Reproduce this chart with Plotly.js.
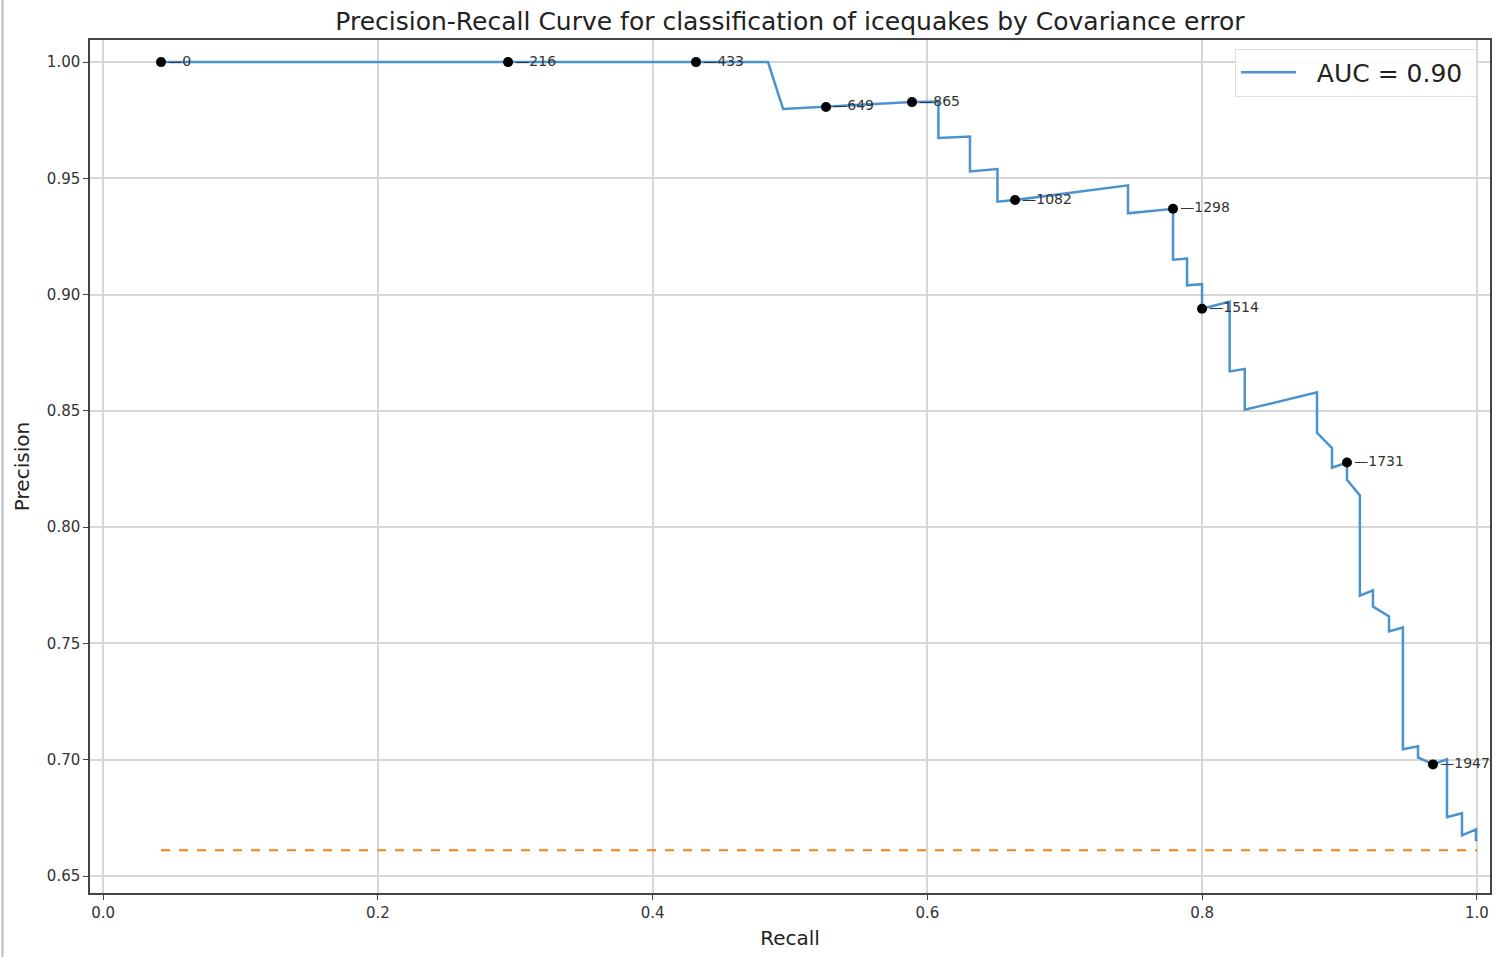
<!DOCTYPE html>
<html><head><meta charset="utf-8">
<script src="https://cdn.plot.ly/plotly-3.0.1.min.js"></script>
<style>html,body{margin:0;padding:0;background:#fff;}#chart{width:1499px;height:966px;}</style>
</head><body><div id="chart"></div>
<script>
// Precision-recall curve vertices
const recall = [0.0422, 0.2948, 0.4316, 0.484, 0.495, 0.5262, 0.5888, 0.608, 0.608, 0.631, 0.631, 0.651, 0.651,
  0.6638, 0.746, 0.746, 0.7788, 0.7788, 0.789, 0.789, 0.7999, 0.7999, 0.820, 0.820, 0.831, 0.831,
  0.8836, 0.8836, 0.8945, 0.8945, 0.9054, 0.9054, 0.9148, 0.9148, 0.9243, 0.9243, 0.9360, 0.9360,
  0.9461, 0.9461, 0.9571, 0.9571, 0.9680, 0.9782, 0.9782, 0.9891, 0.9891, 0.9993, 0.9993];
const precision = [1.0, 1.0, 1.0, 1.0, 0.9798, 0.9807, 0.9828, 0.983, 0.9674, 0.968, 0.953, 0.954, 0.940,
  0.9407, 0.947, 0.935, 0.9369, 0.915, 0.9155, 0.904, 0.9045, 0.8939, 0.897, 0.867, 0.868, 0.8505,
  0.858, 0.8406, 0.834, 0.8256, 0.8278, 0.8204, 0.8136, 0.7706, 0.7728, 0.7659, 0.7616, 0.7552,
  0.7569, 0.7045, 0.7058, 0.7010, 0.6980, 0.7002, 0.6753, 0.6770, 0.6675, 0.6701, 0.6649];
// Threshold markers
const thrLabels = ["0", "216", "433", "649", "865", "1082", "1298", "1514", "1731", "1947"];
const thrRecall = [0.0422, 0.2948, 0.4316, 0.5262, 0.5888, 0.6638, 0.7788, 0.7999, 0.9054, 0.9680];
const thrPrecision = [1.0, 1.0, 1.0, 0.9807, 0.9828, 0.9407, 0.9369, 0.8939, 0.8278, 0.6980];
// No-skill baseline
const baseRecall = [0.0422, 1.0];
const basePrecision = [0.6611, 0.6611];
const xTicks = [0.0, 0.2, 0.4, 0.6, 0.8, 1.0];
const yTicks = [0.65, 0.70, 0.75, 0.80, 0.85, 0.90, 0.95, 1.00];

const font = "DejaVu Sans, sans-serif";
const traces = [
  {x: recall, y: precision, mode: 'lines', name: '\u00a0\u00a0AUC = 0.90\u00a0',
   line: {color: '#4a93cf', width: 2.5}},
  {x: baseRecall, y: basePrecision, mode: 'lines', showlegend: false,
   line: {color: '#ff7f0e', width: 2, dash: 'dash'}},
  {x: thrRecall, y: thrPrecision, mode: 'markers+text', showlegend: false,
   text: thrLabels.map(t => '\u2014' + t), textposition: 'middle right',
   textfont: {family: font, size: 14, color: '#333'},
   marker: {color: '#000', size: 10}}
];
const layout = {
  width: 1499, height: 966,
  margin: {l: 90, r: 9, t: 40, b: 73},
  paper_bgcolor: '#fff', plot_bgcolor: '#fff',
  font: {family: font, color: '#333'},
  title: {text: 'Precision-Recall Curve for classification of icequakes by Covariance error',
    font: {family: font, size: 25, color: '#222'}, x: 0.527, xanchor: 'center', y: 0.978, yanchor: 'middle'},
  xaxis: {range: [-0.0095, 1.0095], tickvals: xTicks, ticktext: xTicks.map(v => v.toFixed(1)),
    showgrid: true, gridcolor: '#d6d6d6', gridwidth: 1.5, zeroline: false,
    showline: true, linecolor: '#444', linewidth: 1.5, mirror: true,
    ticks: 'outside', ticklen: 5, tickcolor: '#444', tickfont: {size: 15, color: '#333'},
    title: {text: 'Recall', font: {size: 20, color: '#222'}, standoff: 10}},
  yaxis: {range: [0.6427, 1.0095], tickvals: yTicks, ticktext: yTicks.map(v => v.toFixed(2)),
    showgrid: true, gridcolor: '#d6d6d6', gridwidth: 1.5, zeroline: false,
    showline: true, linecolor: '#444', linewidth: 1.5, mirror: true,
    ticks: 'outside', ticklen: 5, tickcolor: '#444', tickfont: {size: 15, color: '#333'},
    title: {text: 'Precision', font: {size: 20, color: '#222'}, standoff: 12}},
  legend: {x: 0.9907, y: 0.99, xanchor: 'right', yanchor: 'top',
    bgcolor: 'rgba(255,255,255,0.85)', bordercolor: '#ddd', borderwidth: 1,
    font: {size: 25, color: '#222'}, itemwidth: 55},
  shapes: [{type: 'line', xref: 'paper', yref: 'paper', x0: -0.0625, x1: -0.0625, y0: -0.075, y1: 1.047,
    line: {color: '#bbb', width: 2}}]
};
Plotly.newPlot('chart', traces, layout, {displayModeBar: false});
</script></body></html>
